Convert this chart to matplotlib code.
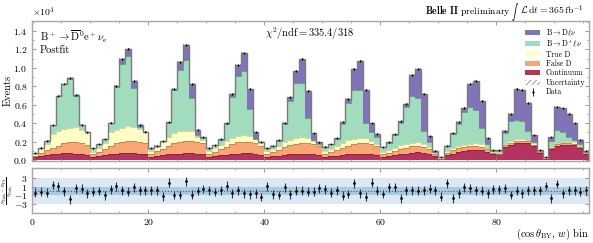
import numpy as np
import matplotlib
matplotlib.use('Agg')
import matplotlib.pyplot as plt
from matplotlib.ticker import MultipleLocator, ScalarFormatter
from matplotlib.patches import Patch
from matplotlib.offsetbox import TextArea, HPacker, AnchoredOffsetbox

plt.rcParams.update({
    'font.family': 'serif',
    'font.serif': ['cmr10'],
    'mathtext.fontset': 'cm',
    'axes.formatter.use_mathtext': True,
    'axes.unicode_minus': True,
    'hatch.linewidth': 0.6,
})

# ---------------- data (yields in units of 10^4 events per bin) ----------------
data = [0.075, 0.134, 0.210, 0.375, 0.700, 0.830, 0.890, 0.705, 0.380, 0.300,
        0.127, 0.174, 0.224, 0.405, 0.800, 1.095, 1.200, 0.860, 0.380, 0.307,
        0.130, 0.155, 0.206, 0.410, 0.770, 1.067, 1.245, 0.825, 0.330, 0.250,
        0.127, 0.160, 0.224, 0.400, 0.717, 1.035, 1.160, 0.770, 0.300, 0.200,
        0.127, 0.155, 0.217, 0.405, 0.680, 0.970, 1.100, 0.750, 0.290, 0.190,
        0.145, 0.174, 0.235, 0.416, 0.660, 0.985, 1.070, 0.760, 0.400, 0.285,
        0.140, 0.190, 0.280, 0.420, 0.610, 0.920, 0.985, 0.720, 0.260, 0.100,
        0.030, 0.155, 0.290, 0.416, 0.568, 0.830, 0.858, 0.640, 0.235, 0.110,
        0.105, 0.320, 0.500, 0.770, 0.760, 0.620, 0.270, 0.110, 0.030,
        0.250, 0.580, 0.560, 0.500, 0.400, 0.220, 0.100]

continuum = [0.030, 0.043, 0.054, 0.062, 0.068, 0.073, 0.073, 0.068, 0.062, 0.054,
             0.030, 0.040, 0.050, 0.060, 0.070, 0.075, 0.078, 0.075, 0.070, 0.060,
             0.035, 0.045, 0.050, 0.060, 0.065, 0.070, 0.075, 0.075, 0.070, 0.060,
             0.030, 0.040, 0.050, 0.058, 0.065, 0.070, 0.072, 0.072, 0.065, 0.055,
             0.030, 0.040, 0.048, 0.056, 0.062, 0.068, 0.070, 0.070, 0.062, 0.052,
             0.030, 0.040, 0.048, 0.056, 0.062, 0.068, 0.070, 0.070, 0.065, 0.055,
             0.030, 0.040, 0.050, 0.060, 0.070, 0.078, 0.082, 0.080, 0.070, 0.040,
             0.010, 0.050, 0.070, 0.085, 0.095, 0.105, 0.108, 0.105, 0.090, 0.060,
             0.060, 0.140, 0.165, 0.180, 0.185, 0.180, 0.150, 0.080, 0.020,
             0.120, 0.150, 0.160, 0.165, 0.160, 0.130, 0.070]

false_d = [0.015, 0.030, 0.054, 0.072, 0.087, 0.107, 0.117, 0.132, 0.118, 0.106,
           0.030, 0.050, 0.070, 0.090, 0.110, 0.125, 0.132, 0.135, 0.130, 0.120,
           0.035, 0.050, 0.070, 0.090, 0.115, 0.130, 0.135, 0.135, 0.130, 0.120,
           0.035, 0.050, 0.065, 0.085, 0.105, 0.120, 0.128, 0.128, 0.120, 0.100,
           0.035, 0.048, 0.062, 0.080, 0.098, 0.110, 0.118, 0.118, 0.110, 0.095,
           0.035, 0.048, 0.060, 0.078, 0.095, 0.108, 0.115, 0.115, 0.108, 0.095,
           0.030, 0.040, 0.050, 0.060, 0.065, 0.070, 0.070, 0.065, 0.050, 0.025,
           0.005, 0.025, 0.035, 0.040, 0.042, 0.044, 0.044, 0.040, 0.030, 0.015,
           0.010, 0.020, 0.022, 0.024, 0.024, 0.022, 0.018, 0.010, 0.004,
           0.015, 0.020, 0.020, 0.020, 0.018, 0.012, 0.006]

true_d = [0.017, 0.043, 0.062, 0.146, 0.163, 0.160, 0.160, 0.160, 0.150, 0.130,
          0.030, 0.040, 0.060, 0.150, 0.150, 0.150, 0.160, 0.150, 0.140, 0.120,
          0.030, 0.045, 0.070, 0.100, 0.110, 0.110, 0.110, 0.110, 0.050, 0.040,
          0.030, 0.040, 0.050, 0.060, 0.070, 0.070, 0.070, 0.065, 0.040, 0.025,
          0.028, 0.035, 0.045, 0.055, 0.060, 0.060, 0.060, 0.055, 0.035, 0.020,
          0.028, 0.035, 0.042, 0.050, 0.055, 0.055, 0.055, 0.050, 0.035, 0.025,
          0.025, 0.030, 0.035, 0.040, 0.040, 0.040, 0.038, 0.032, 0.020, 0.010,
          0.003, 0.020, 0.025, 0.028, 0.030, 0.030, 0.030, 0.025, 0.015, 0.008,
          0.005, 0.015, 0.018, 0.020, 0.020, 0.018, 0.012, 0.005, 0.002,
          0.010, 0.015, 0.015, 0.015, 0.012, 0.008, 0.004]

dstar_lnu = [0.013, 0.018, 0.040, 0.095, 0.380, 0.485, 0.530, 0.335, 0.045, 0.012,
             0.037, 0.044, 0.044, 0.103, 0.460, 0.695, 0.760, 0.425, 0.020, 0.002,
             0.030, 0.015, 0.014, 0.155, 0.465, 0.667, 0.765, 0.355, 0.020, 0.020,
             0.032, 0.028, 0.054, 0.187, 0.447, 0.655, 0.700, 0.285, 0.005, 0.010,
             0.034, 0.029, 0.054, 0.199, 0.420, 0.602, 0.592, 0.217, 0.008, 0.008,
             0.050, 0.046, 0.075, 0.212, 0.403, 0.524, 0.520, 0.165, 0.092, 0.080,
             0.053, 0.075, 0.135, 0.240, 0.395, 0.502, 0.485, 0.133, 0.060, 0.015,
             0.010, 0.055, 0.150, 0.243, 0.351, 0.391, 0.366, 0.180, 0.035, 0.012,
             0.025, 0.115, 0.215, 0.206, 0.191, 0.100, 0.020, 0.005, 0.002,
             0.065, 0.145, 0.105, 0.050, 0.030, 0.020, 0.005]

d_lnu = [0.000, 0.000, 0.000, 0.000, 0.002, 0.005, 0.010, 0.010, 0.005, 0.002,
         0.000, 0.000, 0.000, 0.002, 0.010, 0.050, 0.070, 0.075, 0.020, 0.005,
         0.000, 0.000, 0.002, 0.005, 0.015, 0.090, 0.160, 0.150, 0.060, 0.010,
         0.000, 0.002, 0.005, 0.010, 0.030, 0.120, 0.190, 0.220, 0.070, 0.010,
         0.000, 0.003, 0.008, 0.015, 0.040, 0.130, 0.260, 0.290, 0.075, 0.015,
         0.002, 0.005, 0.010, 0.020, 0.045, 0.230, 0.310, 0.360, 0.100, 0.030,
         0.002, 0.005, 0.010, 0.020, 0.040, 0.230, 0.310, 0.410, 0.060, 0.010,
         0.002, 0.005, 0.010, 0.020, 0.050, 0.260, 0.310, 0.290, 0.065, 0.015,
         0.005, 0.030, 0.080, 0.340, 0.340, 0.300, 0.070, 0.010, 0.002,
         0.040, 0.250, 0.260, 0.250, 0.180, 0.050, 0.015]

pulls = [-0.40, -0.20, -0.35, 1.35, 1.10, -0.10, -1.85, 0.65, 0.55, -0.50,
         -0.20, 0.00, -1.00, 0.40, 1.10, 0.15, -0.20, 0.85, 0.15, 0.15,
         0.15, 0.15, -1.15, 1.85, -0.90, -0.90, 2.20, -0.85, 0.00, 0.45,
         0.22, -0.22, 0.22, 1.20, -0.50, 0.22, -0.50, -0.75, -0.50, -1.35,
         1.10, -0.75, -0.90, 0.80, -0.75, 0.07, 0.07, -0.15, -0.15, 0.60,
         0.37, -0.37, 0.22, -1.05, -0.67, 1.72, -0.52, -1.27, 1.87, 0.07,
         -0.67, 0.80, 0.82, -1.65, 0.22, 0.22, 0.07, 0.22, 0.52, 0.22,
         -1.27, 1.72, -1.65, -0.52, 0.82, 0.60, 0.22, 0.07, -0.52, 0.37,
         0.37, 0.60, -0.90, 0.07, -0.52, 0.22, 0.22, 0.22, 1.12, -1.65,
         1.57, -0.52, 0.22, 0.22, -0.15, 0.22]

labels = [r'$\mathrm{B}\rightarrow\mathrm{D}\ell\nu$',
          r'$\mathrm{B}\rightarrow\mathrm{D}^*\ell\nu$',
          'True D', 'False D', 'Continuum']
colors = ['#8273b9', '#a1dcbf', '#ffffc6', '#f8a674', '#b4335f']
edgecols = ['#4e4290', '#4f8a6c', '#c9c58a', '#c77345', '#7a1d3f']

SCALE = 1e4
# ---------------------------------------------------------------------------------

n = len(data)
edges = np.arange(n + 1)
centers = edges[:-1] + 0.5

comps_bottom_up = [np.array(continuum), np.array(false_d), np.array(true_d),
                   np.array(dstar_lnu), np.array(d_lnu)]
cols_bu = colors[::-1]
edge_bu = edgecols[::-1]

fig = plt.figure(figsize=(5.93, 2.43), dpi=100)
ax = fig.add_axes([0.0545, 0.3374, 0.9388, 0.5774])
axp = fig.add_axes([0.0545, 0.1222, 0.9388, 0.1852])

bottom = np.zeros(n)
for comp, c, ec in zip(comps_bottom_up, cols_bu, edge_bu):
    top = bottom + comp * SCALE
    ax.stairs(top, edges, baseline=bottom, fill=True, facecolor=c, edgecolor='none', lw=0)
    ax.stairs(top, edges, baseline=None, color=ec, lw=0.5)
    bottom = top
total = bottom
unc = np.sqrt(total)
ax.stairs(total + unc, edges, baseline=total - unc, fill=True, facecolor='none',
          edgecolor='#777777', hatch='//////', lw=0)
ax.stairs(total, edges, baseline=None, color='#7a7a7a', lw=1.0)

dvals = np.array(data) * SCALE
ax.errorbar(centers, dvals, yerr=np.sqrt(dvals), fmt='o', ms=1.3, mew=0, color='k',
            elinewidth=0.6, capsize=0, zorder=5)

ax.set_xlim(0, n)
ax.set_ylim(-0.011 * SCALE, 1.512 * SCALE)
fmt = ScalarFormatter(useMathText=True)
fmt.set_powerlimits((4, 4))
ax.yaxis.set_major_formatter(fmt)
ax.yaxis.set_major_locator(MultipleLocator(0.2 * SCALE))
ax.yaxis.set_minor_locator(MultipleLocator(0.1 * SCALE))
ax.xaxis.set_major_locator(MultipleLocator(20))
ax.xaxis.set_minor_locator(MultipleLocator(5))
ax.tick_params(axis='x', labelbottom=False)
ax.yaxis.get_offset_text().set_fontsize(7)
ax.set_ylabel('Events', fontsize=7.5)
ax.yaxis.set_label_coords(-0.036, 0.5)

for a in (ax, axp):
    a.tick_params(which='both', direction='in', top=True, right=True,
                  labelsize=7, color='#888888')
    a.tick_params(which='major', length=3.0, width=0.6)
    a.tick_params(which='minor', length=1.6, width=0.5)
    for s in a.spines.values():
        s.set_color('#a8a8a8')
        s.set_linewidth(1.0)

ax.text(0.014, 0.885, r'$\mathrm{B}^+\rightarrow\overline{\mathrm{D}}^0\mathrm{e}^+\nu_\mathrm{e}$',
        transform=ax.transAxes, fontsize=7.5, ha='left', va='center')
ax.text(0.014, 0.79, 'Postfit', transform=ax.transAxes, fontsize=7.5, ha='left', va='center')
ax.text(0.498, 0.905, r'$\chi^2/\mathrm{ndf} = 335.4/318$', transform=ax.transAxes,
        fontsize=7.5, ha='center', va='center')

# experiment label with a smaller integral sign
parts = [TextArea(r'$\mathbf{Belle\ II}$ preliminary ', textprops=dict(fontsize=7)),
         TextArea(r'$\int$', textprops=dict(fontsize=4.6)),
         TextArea(r'$\,\mathcal{L}\,\mathrm{d}t = 365\,\mathrm{fb}^{-1}$', textprops=dict(fontsize=7))]
box = HPacker(children=parts, align='baseline', pad=0, sep=0)
ab = AnchoredOffsetbox(loc='lower right', child=box, pad=0, borderpad=0, frameon=False,
                       bbox_to_anchor=(0.99, 0.985), bbox_transform=ax.transAxes)
ax.add_artist(ab)

handles = [Patch(facecolor=c, edgecolor='none') for c in colors]
handles.append(Patch(facecolor='white', edgecolor='#888888', hatch='//////', lw=0))
eb = ax.errorbar([], [], yerr=[], fmt='o', ms=1.6, mew=0, color='k', elinewidth=0.6)
handles.append(eb)
leg_labels = labels + ['Uncertainty', 'Data']
ax.legend(handles, leg_labels, loc='upper right', bbox_to_anchor=(1.003, 0.99),
          frameon=False, fontsize=5.5, handlelength=1.9, handleheight=0.65,
          labelspacing=0.14, borderpad=0.2, handletextpad=0.8)

# pull panel
axp.axhspan(-3, 3, color='#dce9f5', lw=0)
axp.axhspan(-1, 1, color='#a7cbe4', lw=0)
axp.axhline(0, ls=':', color='#555555', lw=0.8)
axp.errorbar(centers, pulls, yerr=1.0, fmt='o', ms=2.0, mew=0, color='k', ecolor='#333333',
             elinewidth=0.8, capsize=0, zorder=5)
axp.set_xlim(0, n)
axp.set_ylim(-5.0, 5.1)
axp.set_yticks([-3, -1, 1, 3])
axp.xaxis.set_major_locator(MultipleLocator(20))
axp.xaxis.set_minor_locator(MultipleLocator(5))
axp.tick_params(axis='x', pad=2.5)
axp.set_ylabel(r'$\frac{N_\mathrm{Data}-N_\mathrm{Fit}}{\sigma_\mathrm{Data}}$', fontsize=5.2)
axp.yaxis.set_label_coords(-0.031, 0.5)
axp.set_xlabel(r'$(\cos\theta_\mathrm{BY},\, w)$ bin', fontsize=7.5, loc='right', labelpad=0)

fig.savefig('out.png', dpi=100)
